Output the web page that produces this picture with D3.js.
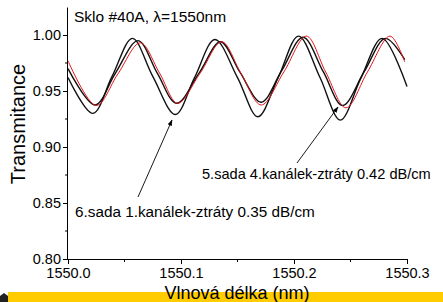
<!DOCTYPE html>
<html>
<head>
<meta charset="utf-8">
<script src="https://cdn.jsdelivr.net/npm/d3@7"></script>
<style>
  body { margin: 0; background: #fff; }
  text { font-family: "Liberation Sans", Arial, sans-serif; }
</style>
</head>
<body>
<div id="chart"></div>
<script>
// wavelength (nm) and transmittance
var blackA_x = [1550.000, 1550.022, 1550.039, 1550.057, 1550.075, 1550.095, 1550.112, 1550.130, 1550.150, 1550.168, 1550.186, 1550.204, 1550.223, 1550.241, 1550.259, 1550.278, 1550.300];
var blackA_y = [0.962, 0.930, 0.963, 0.997, 0.963, 0.929, 0.962, 0.996, 0.962, 0.927, 0.962, 0.999, 0.962, 0.924, 0.961, 0.997, 0.954];

var blackB_x = [1550.000, 1550.024, 1550.042, 1550.062, 1550.079, 1550.096, 1550.116, 1550.135, 1550.152, 1550.171, 1550.189, 1550.208, 1550.226, 1550.243, 1550.262, 1550.281, 1550.298];
var blackB_y = [0.970, 0.9375, 0.966, 0.995, 0.966, 0.939, 0.966, 0.994, 0.967, 0.940, 0.968, 0.998, 0.967, 0.937, 0.967, 0.997, 0.978];

var red_x = [1550.000, 1550.025, 1550.044, 1550.064, 1550.081, 1550.097, 1550.117, 1550.136, 1550.153, 1550.171, 1550.191, 1550.211, 1550.228, 1550.246, 1550.265, 1550.285, 1550.298];
var red_y = [0.977, 0.937, 0.965, 0.993, 0.966, 0.939, 0.966, 0.994, 0.966, 0.9375, 0.967, 0.999, 0.967, 0.935, 0.967, 0.999, 0.976];

var xTicks = [1550.0, 1550.1, 1550.2, 1550.3];
var yTicks = [0.80, 0.85, 0.90, 0.95, 1.00];

var W = 443, H = 302;
var svg = d3.select("#chart").append("svg")
    .attr("width", W)
    .attr("height", H);

var x = d3.scaleLinear().domain([1550.0, 1550.3]).range([68, 407]);
var y = d3.scaleLinear().domain([0.80, 1.00]).range([259, 35]);

// yellow strip at the bottom
svg.append("rect")
    .attr("x", 8).attr("y", 292)
    .attr("width", W - 8).attr("height", 10)
    .attr("fill", "#ffcc00");
svg.append("path")
    .attr("d", "M0,296 L4,293 L8,296 L8,302 L0,302 Z")
    .attr("fill", "#222");

// axes
var xAxis = d3.axisBottom(x)
    .tickValues(xTicks)
    .tickFormat(d3.format(".1f"))
    .tickSize(5).tickPadding(4);
var gx = svg.append("g")
    .attr("transform", "translate(0,259)")
    .call(xAxis);

var yAxis = d3.axisLeft(y)
    .tickValues(yTicks)
    .tickFormat(d3.format(".2f"))
    .tickSize(5).tickPadding(2);
var gy = svg.append("g")
    .attr("transform", "translate(68,0)")
    .call(yAxis);

// minor ticks
var xMinor = [1550.05, 1550.15, 1550.25];
svg.selectAll(".xminor").data(xMinor).enter().append("line")
    .attr("x1", function(d) { return x(d); })
    .attr("x2", function(d) { return x(d); })
    .attr("y1", 259).attr("y2", 262)
    .attr("stroke", "#000");
var yMinor = [0.825, 0.875, 0.925, 0.975];
svg.selectAll(".yminor").data(yMinor).enter().append("line")
    .attr("x1", 65).attr("x2", 68)
    .attr("y1", function(d) { return y(d); })
    .attr("y2", function(d) { return y(d); })
    .attr("stroke", "#000");

[gx, gy].forEach(function(g) {
  g.select(".domain").attr("stroke", "#000").attr("stroke-width", 1);
  g.selectAll(".tick line").attr("stroke", "#000");
  g.selectAll(".tick text")
    .attr("font-family", "Liberation Sans, Arial, sans-serif")
    .attr("font-size", 14.5)
    .attr("fill", "#000");
});
// y axis goes up to the top of the frame
gy.select(".domain").attr("d", "M-0.5,7.5V259.5");
gx.select(".domain").attr("d", "M68,0.5H407.5");

// curves
var line = d3.line()
    .x(function(d) { return x(d[0]); })
    .y(function(d) { return y(d[1]); })
    .curve(d3.curveCatmullRom.alpha(0.5));

function pairs(xs, ys) { return xs.map(function(v, i) { return [v, ys[i]]; }); }

svg.append("path").datum(pairs(blackA_x, blackA_y))
    .attr("d", line).attr("fill", "none")
    .attr("stroke", "#111").attr("stroke-width", 1.4);
svg.append("path").datum(pairs(blackB_x, blackB_y))
    .attr("d", line).attr("fill", "none")
    .attr("stroke", "#111").attr("stroke-width", 1.4);
svg.append("path").datum(pairs(red_x, red_y))
    .attr("d", line).attr("fill", "none")
    .attr("stroke", "#e8141c").attr("stroke-width", 1);

// arrows
var defs = svg.append("defs");
defs.append("marker")
    .attr("id", "ah")
    .attr("viewBox", "0 0 10 10")
    .attr("refX", 9).attr("refY", 5)
    .attr("markerWidth", 7).attr("markerHeight", 7)
    .attr("orient", "auto")
  .append("path")
    .attr("d", "M0,1.5 L10,5 L0,8.5 Z")
    .attr("fill", "#000");

svg.append("line")
    .attr("x1", 138).attr("y1", 197)
    .attr("x2", 172).attr("y2", 120)
    .attr("stroke", "#000").attr("stroke-width", 0.9)
    .attr("marker-end", "url(#ah)");
svg.append("line")
    .attr("x1", 297).attr("y1", 163)
    .attr("x2", 338).attr("y2", 107)
    .attr("stroke", "#000").attr("stroke-width", 0.9)
    .attr("marker-end", "url(#ah)");

// annotations
svg.append("text")
    .attr("x", 74).attr("y", 22)
    .attr("font-size", 15.5)
    .text("Sklo #40A, \u03bb=1550nm");
svg.append("text")
    .attr("x", 202).attr("y", 179)
    .attr("font-size", 14.6)
    .text("5.sada 4.kanálek-ztráty 0.42 dB/cm");
svg.append("text")
    .attr("x", 75).attr("y", 217)
    .attr("font-size", 15.3)
    .text("6.sada 1.kanálek-ztráty 0.35 dB/cm");

// axis titles
svg.append("text")
    .attr("transform", "translate(25,124) rotate(-90)")
    .attr("text-anchor", "middle")
    .attr("font-size", 20)
    .text("Transmitance");
svg.append("text")
    .attr("x", 237).attr("y", 299)
    .attr("text-anchor", "middle")
    .attr("font-size", 18)
    .text("Vlnová délka (nm)");
</script>
</body>
</html>
